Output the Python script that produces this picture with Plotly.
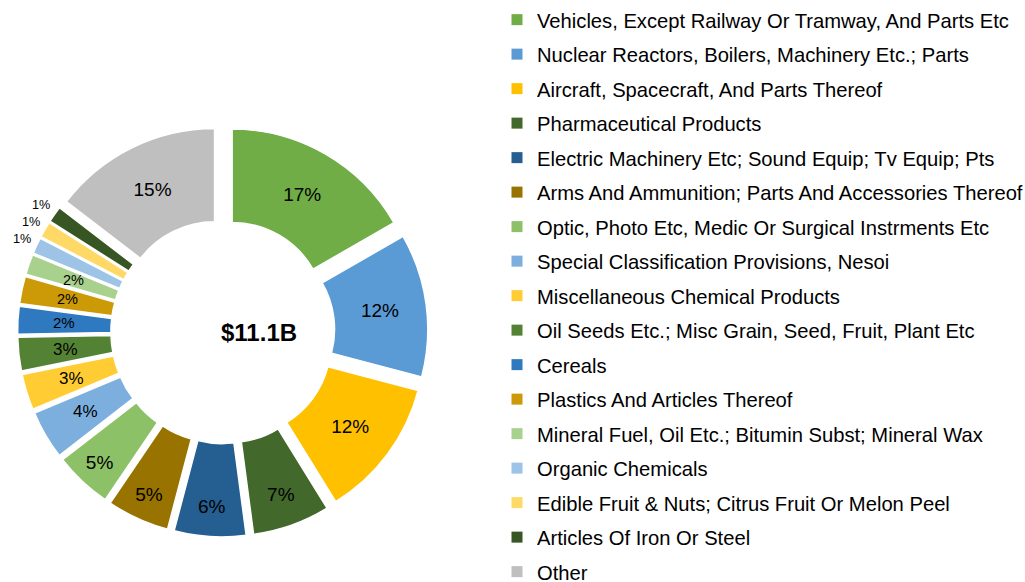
import math
import plotly.graph_objects as go

# ---------------- data ----------------
categories = [
    "Vehicles, Except Railway Or Tramway, And Parts Etc",
    "Nuclear Reactors, Boilers, Machinery Etc.; Parts",
    "Aircraft, Spacecraft, And Parts Thereof",
    "Pharmaceutical Products",
    "Electric Machinery Etc; Sound Equip; Tv Equip; Pts",
    "Arms And Ammunition; Parts And Accessories Thereof",
    "Optic, Photo Etc, Medic Or Surgical Instrments Etc",
    "Special Classification Provisions, Nesoi",
    "Miscellaneous Chemical Products",
    "Oil Seeds Etc.; Misc Grain, Seed, Fruit, Plant Etc",
    "Cereals",
    "Plastics And Articles Thereof",
    "Mineral Fuel, Oil Etc.; Bitumin Subst; Mineral Wax",
    "Organic Chemicals",
    "Edible Fruit & Nuts; Citrus Fruit Or Melon Peel",
    "Articles Of Iron Or Steel",
    "Other",
]
share_pct = [16.7, 12.4, 12.1, 6.7, 6.2, 5.4, 5.0, 4.2, 3.1, 2.9,
             2.4, 2.35, 1.75, 1.4, 1.4, 1.4, 14.6]
total_label = "$11.1B"

# ---------------- styles ----------------
colors = ["#70AD47", "#5B9BD5", "#FFC000", "#43682B", "#255E91", "#997300",
          "#8CC168", "#7CAFDD", "#FFCD33", "#548235", "#2F79C0", "#CC9A06",
          "#A9D18E", "#9DC3E6", "#FFD966", "#375623", "#BFBFBF"]
label_sizes = [19, 19, 19, 19, 19, 19, 19, 17, 17, 17, 15, 14.5, 14.5,
               12.7, 12.7, 12.7, 19]
# slices whose labels Plotly would shrink: drawn as annotations at the
# same geometric spot (ring middle / just outside), unshrunk
ann_slices = list(range(7, 16))
outside_slices = [13, 14, 15]
FONT = "Liberation Sans, Arial, sans-serif"
HOLE, PULL = 0.5, 0.1

W, H = 1025, 582
# pie box in pixels
x0, x1 = 17.6, 428.0
y0, y1 = 126.6, 537.0

fig = go.Figure()
fig.add_trace(go.Pie(
    labels=categories,
    values=share_pct,
    sort=False,
    direction="clockwise",
    rotation=0,
    hole=HOLE,
    pull=PULL,
    marker=dict(colors=colors, line=dict(color="white", width=1.5)),
    texttemplate=["" if i in ann_slices else "%{percent:.0%}"
                  for i in range(len(share_pct))],
    textposition="inside",
    insidetextorientation="horizontal",
    textfont=dict(family=FONT, size=label_sizes, color="#000000"),
    showlegend=False,
    hoverinfo="label+percent",
    domain=dict(x=[x0 / W, x1 / W], y=[1 - y1 / H, 1 - y0 / H]),
))

# labels for thin slices, placed from the data (slice mid-angle)
cx, cy = (x0 + x1) / 2, (y0 + y1) / 2
r = min(x1 - x0, y1 - y0) / 2 / (1 + PULL)
total = sum(share_pct)
cum = 0.0
for i, v in enumerate(share_pct):
    mid = (cum + v / 2) / total
    cum += v
    if i not in ann_slices:
        continue
    theta = 2 * math.pi * mid
    if i in outside_slices:
        R = r * (1 + PULL) + 16
    else:
        R = (HOLE * r + r) / 2 + PULL * r
    px = cx + R * math.sin(theta)
    py = cy - R * math.cos(theta)
    fig.add_annotation(
        text=f"{round(100 * v / total)}%", x=px / W, y=1 - py / H,
        xref="paper", yref="paper", showarrow=False,
        xanchor="center", yanchor="middle",
        font=dict(family=FONT, size=label_sizes[i], color="#000000"),
    )

# legend entries
for name, c in zip(categories, colors):
    fig.add_trace(go.Scatter(
        x=[None], y=[None], mode="markers", name=name, legendgroup=name,
        marker=dict(symbol="square", size=11, color=c, line=dict(width=0)),
        showlegend=True,
    ))

fig.add_annotation(
    text="<b>" + total_label + "</b>", x=218.5 / W, y=1 - 332.3 / H,
    xref="paper", yref="paper", showarrow=False,
    font=dict(family=FONT, size=24, color="#000000"),
)

fig.update_layout(
    width=W, height=H,
    margin=dict(l=0, r=0, t=0, b=0, autoexpand=False),
    paper_bgcolor="white", plot_bgcolor="white",
    xaxis=dict(visible=False), yaxis=dict(visible=False),
    legend=dict(
        x=497 / W, xanchor="left", y=1, yanchor="top",
        font=dict(family=FONT, size=20.2, color="#000000"),
        tracegroupgap=5.24, itemsizing="trace", bgcolor="rgba(0,0,0,0)",
    ),
    showlegend=True,
)

fig.write_html(
    "out.html",
    config={"displayModeBar": False},
    post_script="document.body.style.margin='0';"
                "document.body.style.overflow='hidden';",
)
